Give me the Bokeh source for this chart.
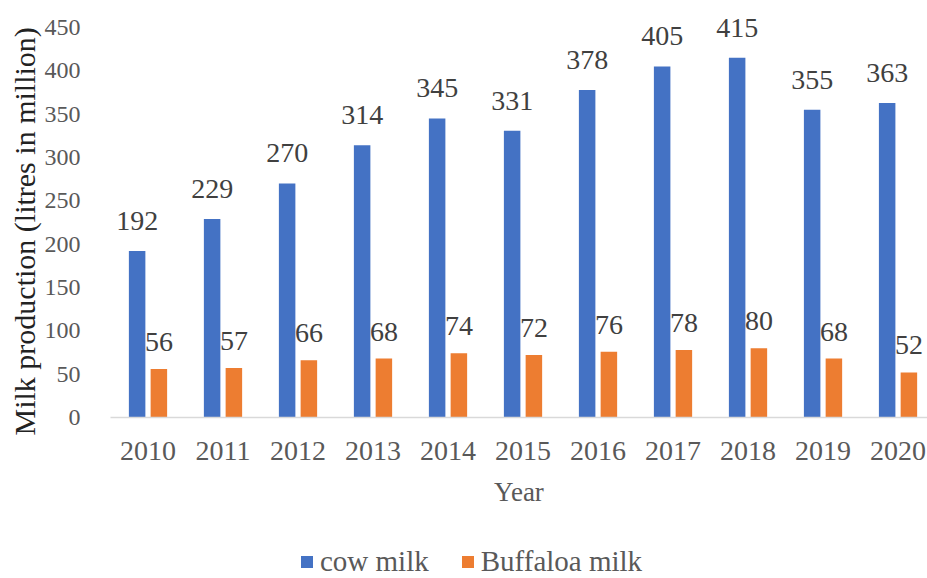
from bokeh.plotting import figure
from bokeh.layouts import column
from bokeh.models import ColumnDataSource, Range1d, FixedTicker, Legend, LegendItem, Title
from bokeh.core.properties import value
from bokeh.transform import dodge
from bokeh.embed import file_html
from bokeh.resources import INLINE

years = ["2010", "2011", "2012", "2013", "2014", "2015", "2016", "2017", "2018", "2019", "2020"]
cow_milk = [192, 229, 270, 314, 345, 331, 378, 405, 415, 355, 363]
buffalo_milk = [56, 57, 66, 68, 74, 72, 76, 78, 80, 68, 52]
y_ticks = [0, 50, 100, 150, 200, 250, 300, 350, 400, 450]
series_names = ["cow milk", "Buffaloa milk"]

FONT = "'Liberation Serif', serif"
BLUE = "#4472C4"
ORANGE = "#ED7D31"

idx = list(range(len(years)))
src = ColumnDataSource(dict(
    x=idx,
    cow=cow_milk,
    buf=buffalo_milk,
    cow_lbl=[str(v) for v in cow_milk],
    buf_lbl=[str(v) for v in buffalo_milk],
))

p = figure(width=927, height=520, output_backend="svg", toolbar_location=None,
           x_range=Range1d(-0.5, 10.393), y_range=Range1d(0, 481.15),
           min_border_left=110, min_border_right=0, min_border_top=0, min_border_bottom=103)
p.outline_line_color = None
p.grid.grid_line_color = None
p.background_fill_color = "white"
p.border_fill_color = "white"

off = 0.145
w = 0.22
r1 = p.vbar(x=dodge("x", -off), top="cow", width=w, source=src, fill_color=BLUE, line_color=None)
r2 = p.vbar(x=dodge("x", off), top="buf", width=w, source=src, fill_color=ORANGE, line_color=None)

p.text(x=dodge("x", -off), y="cow", text="cow_lbl", source=src, y_offset=-30,
       text_align="center", text_baseline="alphabetic", text_font=value(FONT),
       text_font_size="28px", text_color="#404040")
p.text(x=dodge("x", off), y="buf", text="buf_lbl", source=src, y_offset=-27,
       text_align="center", text_baseline="alphabetic", text_font=value(FONT),
       text_font_size="28px", text_color="#404040")

# x axis
xa = p.xaxis[0]
xa.ticker = FixedTicker(ticks=idx)
xa.major_label_overrides = {i: y for i, y in zip(idx, years)}
xa.major_tick_line_color = None
xa.minor_tick_line_color = None
xa.axis_line_color = "#D9D9D9"
xa.axis_line_width = 1.5
xa.major_label_text_font = FONT
xa.major_label_text_font_size = "28px"
xa.major_label_text_color = "#595959"
xa.major_label_standoff = 18
xa.axis_label = "Year"
xa.axis_label_text_font = FONT
xa.axis_label_text_font_size = "27px"
xa.axis_label_text_font_style = "normal"
xa.axis_label_text_color = "#595959"
xa.axis_label_standoff = 14

ya = p.yaxis[0]
ya.ticker = FixedTicker(ticks=y_ticks)
ya.major_tick_line_color = None
ya.minor_tick_line_color = None
ya.axis_line_color = None
ya.major_label_text_font = FONT
ya.major_label_text_font_size = "24px"
ya.major_label_text_color = "#595959"
ya.major_label_standoff = 24

ytitle = Title(text="Milk production (litres in million)", align="left", offset=-18,
               text_font=FONT, text_font_size="30px", text_font_style="normal",
               text_color="#222222", standoff=2)
p.add_layout(ytitle, "left")

# legend strip below the chart
lp = figure(width=927, height=58, output_backend="svg", toolbar_location=None,
            x_range=Range1d(0, 1), y_range=Range1d(0, 1),
            x_axis_location=None, y_axis_location=None,
            min_border=0, min_border_left=0, min_border_right=0, min_border_top=0, min_border_bottom=0)
lp.outline_line_color = None
lp.grid.grid_line_color = None
dummy = ColumnDataSource(dict(x=[10], top=[10]))
l1 = lp.vbar(x="x", top="top", width=0.1, source=dummy, fill_color=BLUE, line_color=None)
l2 = lp.vbar(x="x", top="top", width=0.1, source=dummy, fill_color=ORANGE, line_color=None)
legend = Legend(items=[LegendItem(label=series_names[0], renderers=[l1]),
                       LegendItem(label=series_names[1], renderers=[l2])],
                location=(189, 0), orientation="horizontal",
                glyph_width=15, glyph_height=15, label_standoff=6, spacing=31,
                padding=0, margin=0, border_line_color=None, background_fill_alpha=0,
                label_text_font=FONT, label_text_font_size="29px", label_text_color="#595959")
lp.add_layout(legend, "center")

layout = column(p, lp, spacing=0)
open("out.html", "w").write(file_html(layout, INLINE))
